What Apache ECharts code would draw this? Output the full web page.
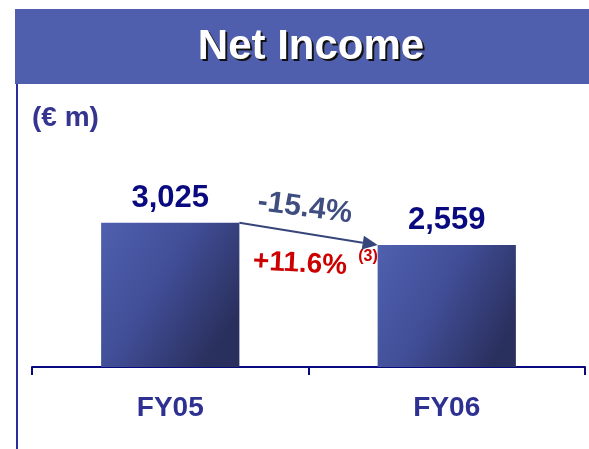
<!DOCTYPE html>
<html>
<head>
<meta charset="utf-8">
<title>Net Income</title>
<script src="https://cdn.jsdelivr.net/npm/echarts@6/dist/echarts.min.js"></script>
<style>
  html, body { margin: 0; padding: 0; background: #fff; }
  #chart { width: 589px; height: 449px; }
</style>
</head>
<body>
<div id="chart"></div>
<script>
  // data
  var categories = ['FY05', 'FY06'];
  var netIncome = [3025, 2559];
  var changeReported = '-15.4%';
  var changeLike = '+11.6%';
  var noteMark = '(3)';

  var FONT = 'Liberation Sans, Arial, sans-serif';

  var chart = echarts.init(document.getElementById('chart'));

  var barColor = new echarts.graphic.LinearGradient(0, 0, 1, 0.6, [
    { offset: 0, color: '#4F60AE' },
    { offset: 0.5, color: '#414E97' },
    { offset: 1, color: '#2A305E' }
  ]);

  // arrow from top-right corner of first bar to top-left corner of second
  function renderArrow(params, api) {
    var half = api.size([1, 0])[0] * 0.25;
    var p1 = api.coord([0, netIncome[0]]);
    var p2 = api.coord([1, netIncome[1]]);
    var x1 = p1[0] + half, y1 = p1[1];
    var x2 = p2[0] - half, y2 = p2[1];
    var ang = Math.atan2(y2 - y1, x2 - x1);
    var hl = 15, hw = 7;
    var bx = x2 - hl * Math.cos(ang), by = y2 - hl * Math.sin(ang);
    var nx = -Math.sin(ang), ny = Math.cos(ang);
    return {
      type: 'group',
      children: [{
        type: 'line',
        shape: { x1: x1, y1: y1, x2: bx, y2: by },
        style: { stroke: '#36457A', lineWidth: 2 }
      }, {
        type: 'polygon',
        shape: { points: [[x2, y2], [bx + nx * hw, by + ny * hw], [bx - nx * hw, by - ny * hw]] },
        style: { fill: '#36457A' }
      }]
    };
  }

  var titleFont = 'bold 42px ' + FONT;

  chart.setOption({
    animation: false,
    grid: { left: 32, right: 4, top: 81, bottom: 82 },
    xAxis: {
      type: 'category',
      data: categories,
      axisLine: { lineStyle: { color: '#0A0A80', width: 2 } },
      axisTick: { show: true, alignWithLabel: false, length: 8, lineStyle: { color: '#0A0A80', width: 2 } },
      axisLabel: {
        margin: 27,
        color: '#2E3192',
        fontSize: 28,
        fontWeight: 'bold',
        fontFamily: FONT
      }
    },
    yAxis: {
      type: 'value',
      min: 0,
      max: 6000,
      show: false
    },
    series: [{
      type: 'bar',
      data: netIncome,
      barWidth: '50%',
      itemStyle: { color: barColor },
      label: {
        show: true,
        position: 'top',
        distance: 9,
        color: '#0A0A80',
        fontSize: 31,
        fontWeight: 'bold',
        fontFamily: FONT,
        formatter: function (p) {
          return p.value.toLocaleString('en-US');
        }
      }
    }, {
      type: 'custom',
      data: [[0, 0]],
      renderItem: renderArrow,
      z: 5,
      silent: true
    }],
    graphic: [{
      type: 'rect',
      shape: { x: 15, y: 9, width: 574, height: 75 },
      style: { fill: '#4F5FAE' }
    }, {
      type: 'line',
      shape: { x1: 17, y1: 84, x2: 17, y2: 449 },
      style: { stroke: '#2C2C9A', lineWidth: 2 }
    }, {
      // title shadow
      type: 'text',
      x: 313, y: 49,
      style: {
        text: 'Net Income',
        fill: '#111',
        font: titleFont,
        align: 'center',
        verticalAlign: 'middle'
      }
    }, {
      type: 'text',
      x: 311, y: 47,
      style: {
        text: 'Net Income',
        fill: '#fff',
        font: titleFont,
        align: 'center',
        verticalAlign: 'middle'
      }
    }, {
      type: 'text',
      x: 32, y: 118,
      style: {
        text: '(€ m)',
        fill: '#35358F',
        font: 'bold 28px ' + FONT,
        align: 'left',
        verticalAlign: 'middle'
      }
    }, {
      type: 'text',
      x: 305, y: 208,
      rotation: -0.13,
      style: {
        text: changeReported,
        fill: '#3F4D80',
        font: 'bold 30px ' + FONT,
        align: 'center',
        verticalAlign: 'middle'
      }
    }, {
      type: 'text',
      x: 300, y: 264,
      rotation: -0.05,
      style: {
        text: changeLike,
        fill: '#CC0000',
        font: 'bold 28px ' + FONT,
        align: 'center',
        verticalAlign: 'middle'
      }
    }, {
      type: 'text',
      x: 368, y: 257,
      style: {
        text: noteMark,
        fill: '#CC0000',
        font: 'bold 16px ' + FONT,
        align: 'center',
        verticalAlign: 'middle'
      }
    }]
  });
</script>
</body>
</html>
